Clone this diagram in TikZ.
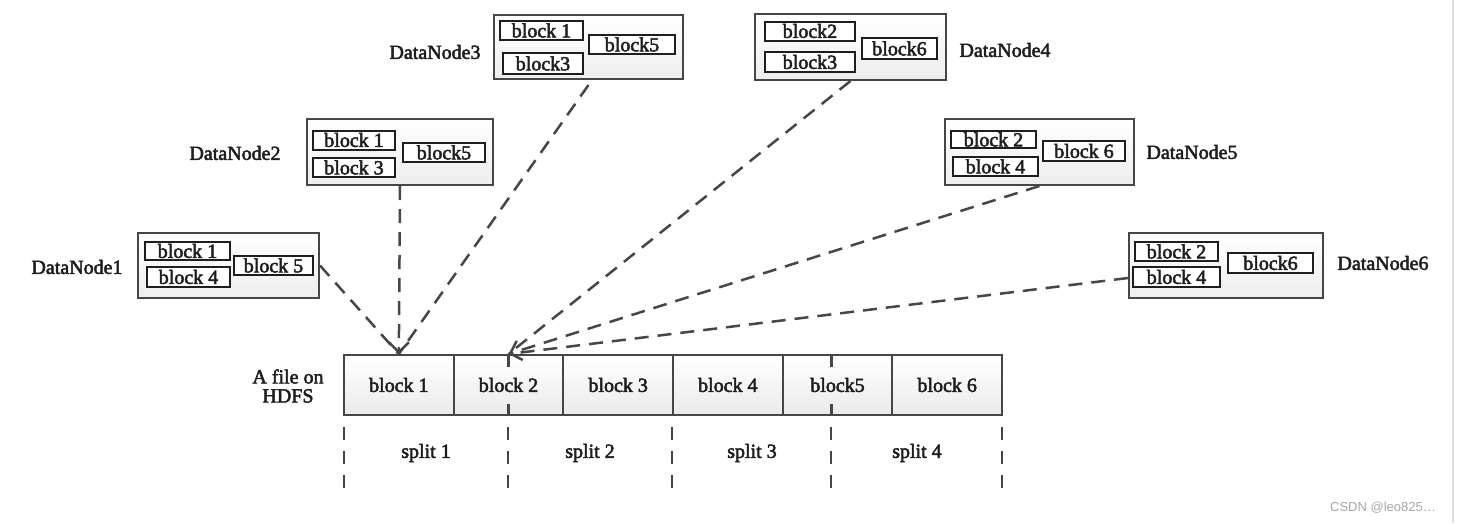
\documentclass[tikz,border=0pt]{standalone}
\usepackage{fontspec}
\setmainfont{Liberation Serif}
\newfontfamily\heavyserif[FakeBold=2.5]{Liberation Serif}
\newfontfamily\marksans{Liberation Sans}
\usepackage{tikz}
\usetikzlibrary{arrows.meta,positioning,calc}
\definecolor{edge}{RGB}{70,70,70}
\definecolor{ink}{RGB}{30,30,30}

\begin{document}
\begin{tikzpicture}[
    x=1pt, y=-1pt,
    dnbox/.style={rectangle, draw=edge, line width=2pt, top color=white, bottom color=gray!14, inner sep=0pt},
    blk/.style={rectangle, draw=ink, line width=2pt, fill=white, inner sep=0pt, minimum height=19pt, text=ink, font=\heavyserif\fontsize{20}{22}\selectfont},
    cell/.style={rectangle, draw=edge, line width=2pt, top color=white, bottom color=gray!16, minimum width=109.67pt, minimum height=60pt, inner sep=0pt, text=ink, font=\heavyserif\fontsize{20}{22}\selectfont},
    dnlabel/.style={text=ink, font=\heavyserif\fontsize{20}{22}\selectfont},
    splitlabel/.style={text=ink, font=\heavyserif\fontsize{20}{22}\selectfont},
    link/.style={draw=edge, line width=2.5pt, dash pattern=on 14pt off 9pt},
    splitline/.style={draw=edge, line width=2.5pt, dash pattern=on 13pt off 11pt},
    innerline/.style={draw=edge, line width=2.5pt, dash pattern=on 13pt off 37pt},
    tip/.style={-{Straight Barb[length=10pt,width=20pt,line width=2.5pt]}}
]
    \useasboundingbox (0,0) rectangle (1457,523);

    % the file on HDFS
    \foreach \i/\t in {1/block 1,2/block 2,3/block 3,4/block 4,5/block5,6/block 6}
        \node[cell] (c\i) at ({344+(\i-0.5)*109.67},385) {\t};
    \node[dnlabel, align=center, font=\heavyserif\fontsize{20}{19}\selectfont] (hdfs) at (288,386) {A file on\\HDFS};

    % splits
    \foreach \x in {344,508,672,831,1002}
        \draw[splitline] (\x,427) -- (\x,490);
    \draw[innerline] (c2.north) -- (c2.south);
    \draw[innerline] ([xshift=-6pt]c5.north) -- ([xshift=-6pt]c5.south);
    \node[splitlabel] (s1) at (426,453) {split 1};
    \node[splitlabel] (s2) at (590,453) {split 2};
    \node[splitlabel] (s3) at (752,453) {split 3};
    \node[splitlabel] (s4) at (917,453) {split 4};

    % data nodes
    \node[dnbox, minimum width=181pt, minimum height=65pt] (dn1) at (228.5,265.5) {};
    \node[blk, minimum width=85pt, minimum height=18pt] (dn1b1) at (187.5,251) {block 1};
    \node[blk, minimum width=83pt, minimum height=20pt] (dn1b4) at (188.5,277) {block 4};
    \node[blk, minimum width=79pt] (dn1b5) at (273.5,265.5) {block 5};
    \node[dnlabel] (dn1l) at (77,267) {DataNode1};

    \node[dnbox, minimum width=186pt, minimum height=66pt] (dn2) at (400,152) {};
    \node[blk, minimum width=82pt] (dn2b1) at (354,140) {block 1};
    \node[blk, minimum width=82pt] (dn2b3) at (354,167.5) {block 3};
    \node[blk, minimum width=82pt] (dn2b5) at (444,152.5) {block5};
    \node[dnlabel] (dn2l) at (235,153) {DataNode2};

    \node[dnbox, minimum width=189pt, minimum height=64pt] (dn3) at (588.5,47) {};
    \node[blk, minimum width=83pt] (dn3b1) at (541.5,30.5) {block 1};
    \node[blk, minimum width=80pt, minimum height=21pt] (dn3b3) at (543,63.5) {block3};
    \node[blk, minimum width=86pt] (dn3b5) at (632,44.5) {block5};
    \node[dnlabel] (dn3l) at (435,52) {DataNode3};

    \node[dnbox, minimum width=191pt, minimum height=66pt] (dn4) at (850.5,47) {};
    \node[blk, minimum width=90pt] (dn4b2) at (810,31) {block2};
    \node[blk, minimum width=90pt, minimum height=20pt] (dn4b3) at (810,62) {block3};
    \node[blk, minimum width=75pt, minimum height=21pt] (dn4b6) at (899.5,48.5) {block6};
    \node[dnlabel] (dn4l) at (1005,50) {DataNode4};

    \node[dnbox, minimum width=189pt, minimum height=66pt] (dn5) at (1039.5,152) {};
    \node[blk, minimum width=85pt, minimum height=17pt] (dn5b2) at (993.5,139.5) {block 2};
    \node[blk, minimum width=85pt] (dn5b4) at (995.5,166.5) {block 4};
    \node[blk, minimum width=82pt, minimum height=20pt] (dn5b6) at (1084,151) {block 6};
    \node[dnlabel] (dn5l) at (1192,152) {DataNode5};

    \node[dnbox, minimum width=194pt, minimum height=65pt] (dn6) at (1226,265.5) {};
    \node[blk, minimum width=83pt] (dn6b2) at (1176.5,251.5) {block 2};
    \node[blk, minimum width=87pt, minimum height=20pt] (dn6b4) at (1176.5,277) {block 4};
    \node[blk, minimum width=85pt, minimum height=20pt] (dn6b6) at (1270.5,263) {block6};
    \node[dnlabel] (dn6l) at (1383,263) {DataNode6};

    % links to the file blocks
    \draw[link] (dn1.east) -- (c1.north);
    \draw[link, tip] (dn2.south) -- (c1.north);
    \draw[link] ([yshift=-5pt]dn3.south) -- (c1.north);
    \draw[link] (dn4.south) -- (c2.north);
    \draw[link, tip] (dn5.south) -- (c2.north);
    \draw[link] ([yshift=-12.5pt]dn6.west) -- (c2.north);

    % page edge and watermark
    \draw[gray!25, line width=1.5pt] (1453,0) -- (1453,523);
    \node[text=gray!70, font=\marksans\fontsize{13}{15}\selectfont] (mark) at (1383,508) {CSDN @leo825…};
\end{tikzpicture}
\end{document}
